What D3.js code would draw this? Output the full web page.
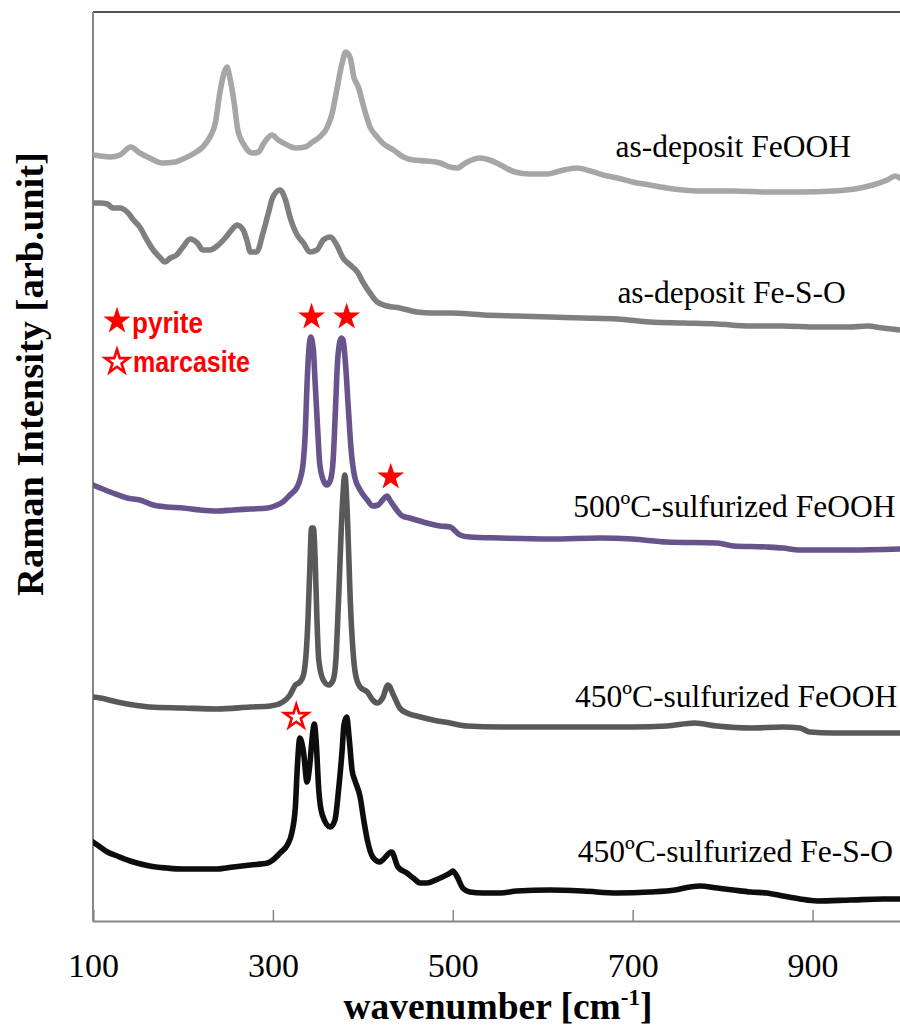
<!DOCTYPE html>
<html><head><meta charset="utf-8">
<script src="https://cdn.jsdelivr.net/npm/d3@7"></script>
<style>body{margin:0;background:#fff}svg{display:block}</style>
</head><body>
<svg id="chart" width="900" height="1032"></svg>
<script>
// ---- data (wavenumber cm^-1, Raman intensity arb. unit, offset-stacked) ----
const seriesNames = ["as-deposit FeOOH","as-deposit Fe-S-O","500ºC-sulfurized FeOOH","450ºC-sulfurized FeOOH","450ºC-sulfurized Fe-S-O"];
const xTicks = [100,300,500,700,900];

const asDepFeOOH = [[100,766],[108,765],[119,764],[130,766],[142,774],[152,768],[163,763],[177,758],[191,759],[200,762],[213,768],[222,774],[230,784],[236,798],[241,828],[246,849],[249,854],[252,844],[257,818],[261,791],[268,776],[277,768],[284,769],[290,778],[299,786],[306,781],[316,776],[325,773],[336,774],[344,779],[352,784],[360,793],[366,808],[371,831],[377,858],[381,869],[386,863],[390,844],[395,834],[401,814],[408,794],[416,784],[422,778],[434,771],[445,764],[456,761],[471,760],[486,758],[497,754],[505,753],[514,758],[530,763],[541,761],[553,756],[569,749],[586,747],[605,747],[619,750],[638,753],[653,750],[667,746],[683,743],[700,739],[719,736],[738,733],[756,731],[775,730],[812,730],[849,729],[886,729],[923,730],[953,733],[967,736],[983,741],[992,745],[997,743]];

const asDepFeSO = [[100,718],[108,718],[116,717],[122,713],[130,713],[138,709],[145,701],[152,694],[160,681],[167,671],[175,663],[180,659],[186,663],[193,666],[200,674],[208,682],[216,678],[222,671],[230,671],[238,675],[247,683],[256,693],[260,696],[267,691],[271,681],[275,669],[282,669],[289,688],[295,708],[300,724],[308,731],[314,721],[319,704],[327,686],[334,678],[341,669],[349,671],[356,681],[364,684],[371,676],[378,663],[386,656],[394,649],[400,639],[408,628],[416,619],[427,615],[441,613],[460,609],[478,608],[497,608],[534,606],[571,605],[608,604],[645,603],[683,602],[719,599],[756,598],[794,597],[831,595],[867,595],[905,594],[942,594],[961,595],[978,593],[997,591]];

const sulf500FeOOH = [[100,436],[108,433],[122,428],[138,423],[152,421],[167,416],[182,414],[200,413],[219,411],[238,410],[256,411],[275,412],[294,413],[302,415],[311,419],[319,426],[327,434],[330,441],[334,461],[336,488],[338,538],[340,571],[342,584],[345,571],[347,538],[350,488],[352,458],[356,441],[360,436],[364,441],[367,461],[370,521],[372,561],[376,583],[378,581],[381,554],[384,511],[387,471],[391,444],[397,431],[405,421],[411,415],[417,416],[422,421],[427,425],[430,421],[436,413],[444,405],[452,403],[467,399],[486,395],[497,394],[508,386],[519,384],[553,383],[608,382],[664,383],[700,382],[738,379],[794,378],[812,375],[849,374],[867,373],[886,371],[942,371],[997,372]];

const sulf450FeOOH = [[100,224],[108,223],[127,219],[145,216],[163,214],[200,213],[238,212],[275,214],[297,215],[311,219],[319,226],[325,236],[330,239],[334,246],[337,268],[339,301],[341,351],[343,393],[345,393],[347,361],[349,301],[351,261],[356,241],[362,236],[367,241],[370,261],[373,321],[377,411],[380,446],[383,401],[386,321],[389,271],[392,246],[397,234],[405,229],[411,221],[416,218],[422,223],[428,236],[434,226],[441,213],[449,208],[464,204],[478,201],[497,198],[516,195],[553,194],[608,194],[664,194],[700,194],[738,195],[769,198],[794,195],[831,193],[867,194],[886,193],[897,189],[923,188],[961,188],[997,188]];

const sulf450FeSO = [[100,79],[108,74],[116,69],[127,65],[145,59],[163,55],[182,53],[200,52],[219,52],[238,52],[256,54],[275,56],[294,58],[300,61],[308,68],[316,76],[321,88],[325,114],[327,151],[330,183],[334,169],[338,139],[341,156],[344,186],[346,197],[348,181],[351,131],[355,106],[364,94],[369,101],[373,131],[377,171],[379,196],[382,204],[385,181],[388,151],[391,141],[397,124],[401,101],[405,81],[411,64],[419,59],[422,61],[432,69],[439,54],[449,48],[456,43],[464,38],[471,38],[486,43],[497,48],[500,50],[505,44],[511,33],[519,29],[534,28],[553,28],[571,30],[608,31],[645,30],[683,28],[719,29],[747,31],[764,34],[775,35],[794,33],[812,31],[831,29],[849,28],[867,25],[886,22],[905,20],[942,21],[978,22],[997,22]];

const seriesData = [asDepFeOOH, asDepFeSO, sulf500FeOOH, sulf450FeOOH, sulf450FeSO];
const seriesColors = ["#a6a6a6","#7f7f7f","#67548c","#595959","#0d0d0d"];
// label anchor points (wavenumber, intensity)
const labelAt = [[681,764],[683,618],[634,404],[636,214],[639,59]];
// phase markers: [wavenumber, intensity]
const pyritePeaks = [[343,604],[382,604],[431,444]];
const marcasitePeaks = [[326,204]];

// ---- chart ----
const svg = d3.select("#chart");
const x = d3.scaleLinear().domain([100,1000]).range([93,902.5]);
const y = d3.scaleLinear().domain([0,909]).range([921,12]);
const serif = "'Liberation Serif','Times New Roman',serif";

// frame: top border
svg.append("line").attr("x1",93).attr("x2",900).attr("y1",y(909)).attr("y2",y(909))
  .attr("stroke","#1a1a1a").attr("stroke-width",1.5);

// x axis
const xAxis = svg.append("g").attr("transform",`translate(0,${y(0)})`)
  .call(d3.axisBottom(x).tickValues(xTicks).tickSize(-11).tickPadding(0).tickFormat(d3.format("d")));
xAxis.select(".domain").attr("stroke","#868686").attr("stroke-width",2);
xAxis.selectAll(".tick line").attr("stroke","#868686").attr("stroke-width",1.5);
xAxis.selectAll(".tick text").attr("font-family",serif).attr("font-size",34).attr("fill","#000")
  .attr("dy",null).attr("y",56);

// y axis line
svg.append("line").attr("x1",x(100)).attr("x2",x(100)).attr("y1",y(0)).attr("y2",y(909))
  .attr("stroke","#868686").attr("stroke-width",2);

// lines
const line = d3.line().x(d=>x(d[0])).y(d=>y(d[1])).curve(d3.curveMonotoneX);
svg.append("clipPath").attr("id","clip").append("rect").attr("x",93).attr("y",12).attr("width",810).attr("height",909);
const gl = svg.append("g").attr("clip-path","url(#clip)");
seriesData.forEach((s,i)=>{
  gl.append("path").datum(s).attr("d",line).attr("fill","none")
    .attr("stroke",seriesColors[i]).attr("stroke-width",5.6)
    .attr("stroke-linejoin","round").attr("stroke-linecap","round");
});

// series labels
seriesNames.forEach((n,i)=>{
  svg.append("text").attr("x",x(labelAt[i][0])).attr("y",y(labelAt[i][1]))
    .attr("font-family",serif).attr("font-size",31.5).attr("fill","#000").text(n);
});

// stars
const starR = 14.2;
const star = d3.symbol().type(d3.symbolStar).size(starR*starR/0.8908);
svg.selectAll(".pstar").data(pyritePeaks).join("path").attr("class","pstar")
  .attr("d",star).attr("fill","#ff0000")
  .attr("transform",d=>`translate(${x(d[0])},${y(d[1])})`);
const starO = d3.symbol().type(d3.symbolStar).size(12.5*12.5/0.8908);
svg.selectAll(".mstar").data(marcasitePeaks).join("path").attr("class","mstar")
  .attr("d",starO).attr("fill","#fff").attr("stroke","#ff0000").attr("stroke-width",2.6)
  .attr("transform",d=>`translate(${x(d[0])},${y(d[1])})`);

// legend
const legFont = "'Liberation Sans Narrow','Liberation Sans',Arial,sans-serif";
svg.append("path").attr("d",star).attr("fill","#ff0000").attr("transform","translate(117,321)");
svg.append("path").attr("d",starO).attr("fill","#fff").attr("stroke","#ff0000").attr("stroke-width",2.6).attr("transform","translate(117,362)");
svg.append("text").attr("x",132).attr("y",333).attr("font-family",legFont).attr("font-weight","bold")
  .attr("font-size",30).attr("fill","#ff0000").attr("textLength",71).attr("lengthAdjust","spacingAndGlyphs").text("pyrite");
svg.append("text").attr("x",133).attr("y",372).attr("font-family",legFont).attr("font-weight","bold")
  .attr("font-size",30).attr("fill","#ff0000").attr("textLength",117).attr("lengthAdjust","spacingAndGlyphs").text("marcasite");

// axis titles
const xt = svg.append("text").attr("x",498).attr("y",1019).attr("text-anchor","middle")
  .attr("font-family",serif).attr("font-weight","bold").attr("font-size",37.5).attr("fill","#000");
xt.append("tspan").text("wavenumber [cm");
xt.append("tspan").attr("font-size",23).attr("dy",-14).text("-1");
xt.append("tspan").attr("dy",14).text("]");

svg.append("text").attr("transform","translate(43,374) rotate(-90)").attr("text-anchor","middle")
  .attr("font-family",serif).attr("font-weight","bold").attr("font-size",38.5).attr("fill","#000")
  .text("Raman Intensity [arb.unit]");
</script>
</body></html>
